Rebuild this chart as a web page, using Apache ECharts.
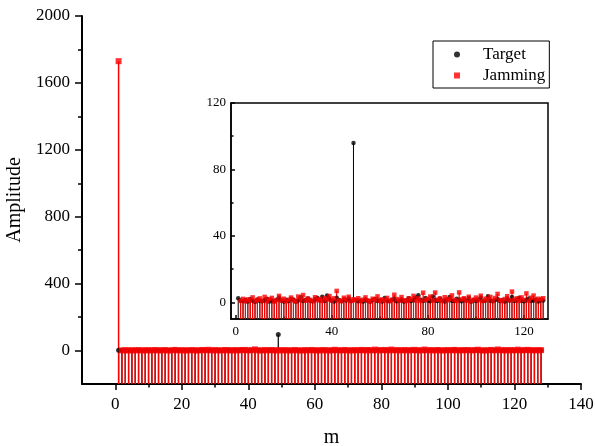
<!DOCTYPE html>
<html>
<head>
<meta charset="utf-8">
<script src="https://cdn.jsdelivr.net/npm/echarts@6/dist/echarts.min.js"></script>
<style>
    html, body { margin: 0; padding: 0; background: #fff; }
    #chart { width: 595px; height: 446px; }
</style>
</head>
<body>
<div id="chart"></div>
<script>
// amplitude per bin m = 1..128
var targetAmp = [
    2.5, 1.2, 0.8, 1.5, 0.6, 2.1, 1.0, 0.4, 1.8, 0.9,
    0.7, 1.3, 2.2, 0.5, 1.1, 0.8, 1.6, 2.9, 1.2, 0.6,
    1.4, 0.9, 2.0, 1.7, 0.5, 1.2, 3.1, 0.8, 1.5, 2.4,
    1.1, 0.7, 1.9, 2.6, 1.3, 3.4, 0.9, 4.1, 2.2, 1.0,
    0.6, 2.8, 1.4, 0.8, 1.7, 1.1, 2.3, 0.9, 96, 1.5,
    0.7, 1.2, 0.5, 1.8, 1.0, 0.6, 1.4, 2.0, 0.9, 1.3,
    0.5, 2.6, 1.1, 0.8, 1.6, 2.2, 0.7, 1.0, 1.9, 0.6,
    1.2, 2.5, 0.9, 1.4, 3.0, 4.3, 1.6, 0.8, 2.7, 1.1,
    0.7, 3.6, 1.3, 0.9, 2.4, 1.2, 0.6, 1.8, 3.3, 1.0,
    0.8, 2.2, 1.5, 0.7, 1.9, 1.1, 2.6, 0.6, 1.4, 0.9,
    1.7, 2.9, 0.8, 1.2, 3.7, 1.0, 0.7, 1.5, 2.1, 0.9,
    1.3, 0.6, 2.4, 1.1, 3.2, 0.8, 1.6, 2.8, 1.0, 0.7,
    1.4, 2.3, 0.9, 1.2, 1.8, 0.6, 1.5, 1.1
];
var jammingAmp = [
    1730, 0.9, 2.1, 0.6, 1.8, 1.2, 3.0, 0.7, 1.5, 2.4,
    1.0, 3.3, 0.8, 1.9, 2.7, 0.5, 1.4, 3.9, 1.1, 2.2,
    0.7, 1.6, 2.9, 1.2, 0.6, 3.5, 1.8, 4.4, 1.0, 2.3,
    1.5, 0.8, 3.1, 1.3, 2.0, 0.9, 2.6, 1.7, 3.8, 1.1,
    2.4, 6.9, 1.2, 0.7, 2.8, 1.6, 3.4, 0.9, 1.9, 1.3,
    2.5, 0.8, 1.6, 3.0, 1.1, 0.6, 2.2, 1.4, 3.6, 0.9,
    1.8, 1.2, 2.7, 0.7, 1.5, 4.6, 2.0, 1.0, 3.2, 1.3,
    0.8, 2.4, 1.7, 3.9, 1.1, 2.6, 0.9, 5.8, 1.4, 2.1,
    3.5, 1.0, 5.9, 1.6, 2.3, 0.8, 3.1, 1.2, 2.0, 4.2,
    1.5, 0.9, 6.0, 1.8, 2.5, 1.1, 3.4, 0.7, 1.6, 2.9,
    1.3, 4.0, 0.9, 2.2, 1.7, 3.3, 1.0, 2.6, 5.1, 1.4,
    0.8, 2.0, 3.7, 1.2, 6.5, 1.6, 2.4, 0.9, 3.0, 1.5,
    5.4, 1.1, 2.8, 4.1, 1.3, 2.2, 1.7, 2.5
];

// tick labels
var mainXTicks = [0, 20, 40, 60, 80, 100, 120, 140];
var mainXMinor = [10, 30, 50, 70, 90, 110, 130];
var mainYTicks = [0, 400, 800, 1200, 1600, 2000];
var mainYMinor = [200, 600, 1000, 1400, 1800];
var insetXTicks = [0, 40, 80, 120];
var insetXMinor = [20, 60, 100];
var insetYTicks = [0, 40, 80, 120];
var insetYMinor = [20, 60, 100];

var FONT = 'Liberation Serif';

var targetData = [];
var jammingData = [];
for (var i = 0; i < targetAmp.length; i++) {
    targetData.push([i + 1, targetAmp[i]]);
    jammingData.push([i + 1, jammingAmp[i]]);
}

// vertical drop line from the point down to the bottom of the axis
function stem(base, cap, color, width) {
    return function (params, api) {
        var y = api.value(1);
        if (y > cap) return null;   // out of this plot's range
        var p0 = api.coord([api.value(0), base]);
        var p1 = api.coord([api.value(0), y]);
        return {
            type: 'line',
            shape: { x1: p0[0], y1: p0[1], x2: p1[0], y2: p1[1] },
            style: { stroke: color, lineWidth: width }
        };
    };
}

function valueAxis(grid, min, max, opt) {
    var ax = {
        type: 'value',
        gridIndex: grid,
        min: min,
        max: max,
        splitLine: { show: false },
        axisLine: { show: opt.line !== false, onZero: false, lineStyle: { color: '#000', width: opt.lineWidth || 2 } },
        axisTick: {
            show: true,
            inside: !!opt.inside,
            length: opt.tickLen,
            customValues: opt.ticks,
            lineStyle: { color: '#000', width: 1.5 }
        },
        axisLabel: {
            show: !!opt.labels,
            customValues: opt.labels || [],
            formatter: function (v) { return String(v); },
            color: '#000',
            fontFamily: FONT,
            fontSize: opt.fontSize || 17,
            margin: opt.margin || 12
        }
    };
    if (opt.position) ax.position = opt.position;
    if (opt.name) {
        ax.name = opt.name;
        ax.nameLocation = 'middle';
        ax.nameGap = opt.nameGap;
        ax.nameTextStyle = { color: '#000', fontFamily: FONT, fontSize: 20 };
    }
    return ax;
}

var option = {
    animation: false,
    backgroundColor: '#fff',
    grid: [
        { left: 82, right: 14, top: 16, bottom: 62, outerBoundsMode: 'none', containLabel: false },
        { left: 231, top: 103, width: 317, height: 216, outerBoundsMode: 'none', containLabel: false,
          show: true, backgroundColor: '#fff', borderColor: '#000', borderWidth: 1.5 }
    ],
    legend: {
        orient: 'vertical',
        left: 433,
        top: 41,
        padding: [5, 4, 4, 21],
        itemGap: 4,
        itemWidth: 6,
        itemHeight: 6,
        borderColor: '#000',
        borderWidth: 1,
        backgroundColor: '#fff',
        textStyle: { color: '#000', fontFamily: FONT, fontSize: 17, padding: [0, 0, 0, 18] },
        data: [
            { name: 'Target', icon: 'circle' },
            { name: 'Jamming', icon: 'rect' }
        ]
    },
    xAxis: [
        valueAxis(0, -10, 140, { ticks: mainXTicks, labels: mainXTicks, tickLen: 6, position: 'bottom', name: 'm', nameGap: 44 }),
        valueAxis(0, -10, 140, { ticks: mainXMinor, tickLen: 3.5, line: false, position: 'bottom' }),
        valueAxis(1, -2, 130, { ticks: insetXTicks, labels: insetXTicks, tickLen: 4, inside: true, fontSize: 13, margin: 6, lineWidth: 1.5, position: 'bottom' }),
        valueAxis(1, -2, 130, { ticks: insetXMinor, tickLen: 2.5, inside: true, line: false, position: 'bottom' })
    ],
    yAxis: [
        valueAxis(0, -200, 2000, { ticks: mainYTicks, labels: mainYTicks, tickLen: 7, position: 'left', name: 'Amplitude', nameGap: 51 }),
        valueAxis(0, -200, 2000, { ticks: mainYMinor, tickLen: 4, line: false, position: 'left' }),
        valueAxis(1, -10, 120, { ticks: insetYTicks, labels: insetYTicks, tickLen: 4, inside: true, fontSize: 13, margin: 5, lineWidth: 1.5, position: 'left' }),
        valueAxis(1, -10, 120, { ticks: insetYMinor, tickLen: 2.5, inside: true, line: false, position: 'left' })
    ],
    series: [
        // main plot
        { name: 'targetStem', type: 'custom', xAxisIndex: 0, yAxisIndex: 0, data: targetData, renderItem: stem(-200, 2000, '#000', 1.2), silent: true },
        { name: 'jammingStem', type: 'custom', xAxisIndex: 0, yAxisIndex: 0, data: jammingData, renderItem: stem(-200, 2000, '#ff0000', 1.5), silent: true },
        { name: 'Target', type: 'scatter', xAxisIndex: 0, yAxisIndex: 0, data: targetData, symbol: 'circle', symbolSize: 5, itemStyle: { color: '#000' } },
        { name: 'Jamming', type: 'scatter', xAxisIndex: 0, yAxisIndex: 0, data: jammingData, symbol: 'rect', symbolSize: 6, itemStyle: { color: '#ff0000' } },
        // inset
        { name: 'targetStemIn', type: 'custom', xAxisIndex: 2, yAxisIndex: 2, data: targetData, renderItem: stem(-10, 120, '#000', 1), silent: true },
        { name: 'jammingStemIn', type: 'custom', xAxisIndex: 2, yAxisIndex: 2, data: jammingData, renderItem: stem(-10, 120, '#ff0000', 1.2), silent: true },
        { name: 'Target', type: 'scatter', xAxisIndex: 2, yAxisIndex: 2, data: targetData, symbol: 'circle', symbolSize: 4.5, clip: true, itemStyle: { color: '#000' } },
        { name: 'Jamming', type: 'scatter', xAxisIndex: 2, yAxisIndex: 2, data: jammingData, symbol: 'rect', symbolSize: 4.5, clip: true, itemStyle: { color: '#ff0000' } }
    ]
};

var myChart = echarts.init(document.getElementById('chart'));
myChart.setOption(option);
</script>
</body>
</html>
